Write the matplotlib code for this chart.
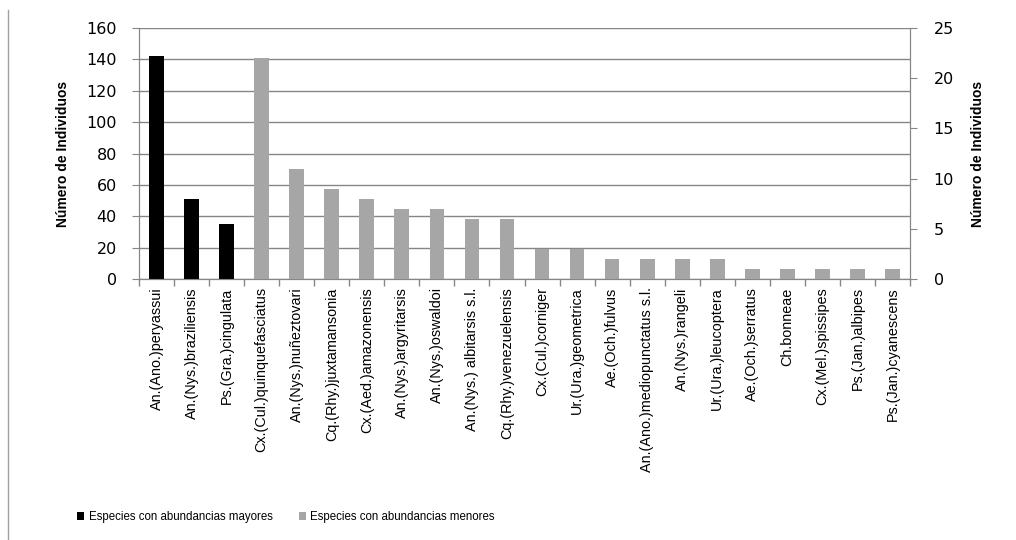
import matplotlib
matplotlib.use("Agg")
import matplotlib.pyplot as plt
from matplotlib.patches import Patch
from matplotlib.lines import Line2D
import numpy as np

species = [
    "An.(Ano.)peryassui", "An.(Nys.)braziliensis", "Ps.(Gra.)cingulata",
    "Cx.(Cul.)quinquefasciatus", "An.(Nys.)nuñeztovari", "Cq.(Rhy.)juxtamansonia",
    "Cx.(Aed.)amazonensis", "An.(Nys.)argyritarsis", "An.(Nys.)oswaldoi",
    "An.(Nys.) albitarsis s.l.", "Cq.(Rhy.)venezuelensis", "Cx.(Cul.)corniger",
    "Ur.(Ura.)geometrica", "Ae.(Och.)fulvus", "An.(Ano.)mediopunctatus s.l.",
    "An.(Nys.)rangeli", "Ur.(Ura.)leucoptera", "Ae.(Och.)serratus",
    "Ch.bonneae", "Cx.(Mel.)spissipes", "Ps.(Jan.)albipes", "Ps.(Jan.)cyanescens",
]
mayores = [142, 51, 35]
menores = [22, 11, 9, 8, 7, 7, 6, 6, 3, 3, 2, 2, 2, 2, 1, 1, 1, 1, 1]
left_ticks = [0, 20, 40, 60, 80, 100, 120, 140, 160]
right_ticks = [0, 5, 10, 15, 20, 25]
legend_labels = ["Especies con abundancias mayores", "Especies con abundancias menores"]

SANS = ["Liberation Sans", "DejaVu Sans"]
BLACK = "#000000"
GREY = "#A6A6A6"
AX = "#868686"

fig = plt.figure(figsize=(10.16, 5.40), dpi=100)
ax = fig.add_axes([139/1016, 1-279/540, (910-139)/1016, (279-28)/540])
ax2 = ax.twinx()

x_may = np.arange(len(mayores))
x_men = np.arange(len(mayores), len(mayores) + len(menores))
w = 0.42
ax.bar(x_may, mayores, width=w, color=BLACK, zorder=3)
ax2.bar(x_men, menores, width=w, color=GREY, zorder=3)

ax.set_xlim(-0.5, len(species) - 0.5)
ax.set_ylim(0, 160)
ax2.set_ylim(0, 25)
ax.set_yticks(left_ticks)
ax2.set_yticks(right_ticks)
ax.yaxis.grid(True, color=AX, linewidth=1)
ax.set_axisbelow(True)

ax.set_xticks(np.arange(len(species)))
ax.set_xticklabels(species, rotation=90, fontfamily=SANS, fontsize=10.4)
ax.set_xticks(np.arange(-0.5, len(species)), minor=True)
ax.tick_params(axis="x", which="major", length=0, pad=6)
ax.tick_params(axis="x", which="minor", length=5, color=AX, width=1)
ax.tick_params(axis="y", length=5, color=AX, labelsize=11.5, pad=11)
ax2.tick_params(axis="y", length=5, color=AX, labelsize=11.5, pad=12)
for t in ax.get_yticklabels() + ax2.get_yticklabels():
    t.set_fontfamily("DejaVu Sans")

for a in (ax, ax2):
    a.spines["top"].set_visible(False)
    for s in ("left", "right", "bottom"):
        a.spines[s].set_color(AX)

ax.set_ylabel("Número de Individuos", fontfamily=SANS, fontweight="bold", fontsize=10, labelpad=12)
ax2.set_ylabel("Número de Individuos", fontfamily=SANS, fontweight="bold", fontsize=10, labelpad=12)

handles = [Patch(facecolor=BLACK), Patch(facecolor=GREY)]
fig.legend(handles, legend_labels, loc="center left", bbox_to_anchor=(77/1016, 1-517/540),
           ncol=2, frameon=False, prop={"family": SANS, "size": 8.3},
           borderpad=0, borderaxespad=0,
           handlelength=0.6, handleheight=0.6, handletextpad=0.4, columnspacing=2.3)

fig.add_artist(Line2D([8/1016, 8/1016], [0, 1-10/540], transform=fig.transFigure, color="#A0A0A0", linewidth=1))

fig.savefig("out.png", dpi=100)
